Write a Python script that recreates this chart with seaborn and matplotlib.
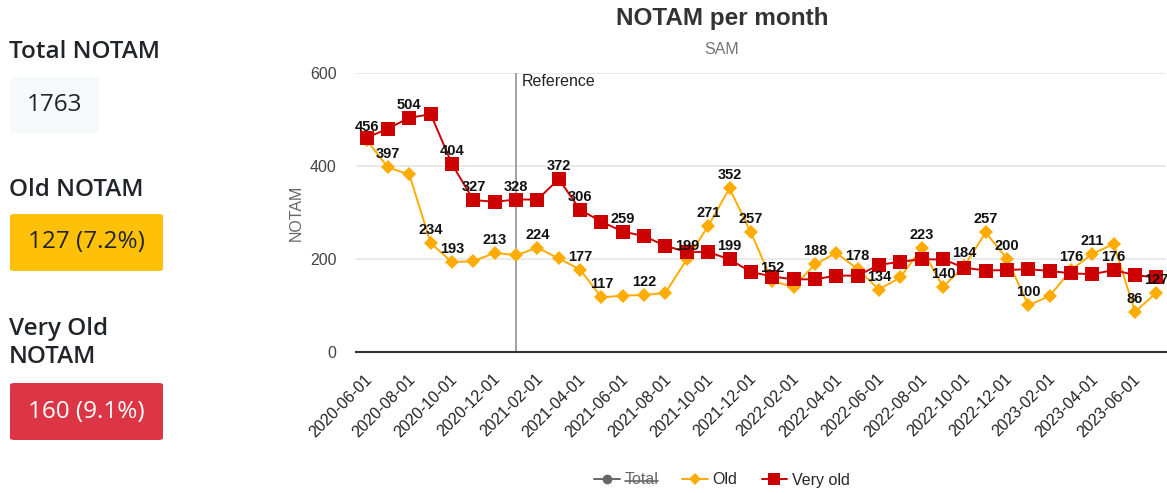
import matplotlib
matplotlib.use("Agg")
import matplotlib.pyplot as plt
import seaborn as sns
import pandas as pd
from matplotlib.patches import FancyBboxPatch
from matplotlib.lines import Line2D
import matplotlib.transforms as mtransforms

# ---------------- data ----------------
months = pd.date_range("2020-06-01", "2023-07-01", freq="MS").strftime("%Y-%m-%d").tolist()
old = [456, 397, 382, 234, 193, 195, 213, 208, 224, 201, 177, 117, 121, 122, 127, 199,
       271, 352, 257, 152, 140, 188, 213, 178, 134, 160, 223, 140, 184, 257, 200, 100,
       120, 176, 211, 232, 86, 127]
very_old = [461, 481, 504, 512, 404, 327, 323, 328, 328, 372, 306, 280, 259, 249, 228, 215,
            215, 199, 172, 162, 156, 156, 164, 164, 187, 194, 199, 199, 181, 175, 176, 178,
            174, 169, 167, 176, 165, 160]
old_labeled = [0, 1, 3, 4, 6, 8, 10, 11, 13, 15, 16, 17, 18, 19, 21, 23, 24, 26, 27, 28,
               29, 30, 31, 33, 34, 36, 37]
very_old_labeled = [2, 4, 5, 7, 9, 10, 12, 17, 35]
reference_month = "2021-01-01"
series_names = ["Total", "Old", "Very old"]
y_ticks = [0, 200, 400, 600]

total_notam = 1763
old_notam = 127
very_old_notam = 160

# ---------------- style ----------------
W, H = 1167, 493
ORANGE = "#FFAB00"
RED = "#CC0000"
CHART_FONT = "Liberation Sans"
CARD_FONT = "Open Sans"

sns.set_style("white")
plt.rcParams["font.family"] = [CHART_FONT, "DejaVu Sans"]

fig = plt.figure(figsize=(W / 100, H / 100), dpi=100)
fig.patch.set_facecolor("white")

def fx(px):
    return px / W

def fy(py):
    return 1 - py / H

ax_left, ax_right, ax_top, ax_bot = 356, 1166, 73.3, 351.7
ax = fig.add_axes([fx(ax_left), fy(ax_bot), fx(ax_right - ax_left), (ax_bot - ax_top) / H])

df = pd.DataFrame({"month": months, "pos": range(len(months)), "Old": old, "Very old": very_old})

sns.lineplot(data=df, x="pos", y="Old", ax=ax, color=ORANGE, lw=1.4, marker="D",
             markersize=7, markeredgewidth=0, zorder=3)
sns.lineplot(data=df, x="pos", y="Very old", ax=ax, color=RED, lw=1.4, marker="s",
             markersize=9.5, markeredgewidth=0, zorder=4)

ax.set_xlim(-0.5, len(months) - 0.55)
ax.set_ylim(0, 600)
ax.set_yticks(y_ticks)
ax.set_yticklabels([str(v) for v in y_ticks], color="#444444", fontsize=11.5)
ax.grid(axis="y", color="#e6e6e6", lw=1.2)
ax.grid(axis="x", visible=False)
for s in ["left", "right", "top"]:
    ax.spines[s].set_visible(False)
ax.spines["bottom"].set_color("#333333")
ax.spines["bottom"].set_linewidth(1.5)
ax.spines["bottom"].set_zorder(5)

tick_pos = list(range(0, len(months), 2))
ax.set_xticks(tick_pos)
ax.set_xticklabels([months[i] for i in tick_pos], rotation=45, ha="right", va="center",
                   rotation_mode="anchor", fontsize=11.5, color="#222222")
ax.tick_params(axis="x", length=0, pad=18)
ax.tick_params(axis="y", length=0, pad=14)
offset = mtransforms.ScaledTranslation(3 / 100, 0, fig.dpi_scale_trans)
for lbl in ax.get_xticklabels():
    lbl.set_transform(lbl.get_transform() + offset)

ax.set_xlabel("")
ax.set_ylabel("NOTAM", color="#666666", fontsize=11.5, labelpad=4)

# reference line
ref_x = months.index(reference_month)
ax.axvline(ref_x, color="#9a9a9a", lw=1.3, zorder=2)
ax.annotate("Reference", xy=(ref_x, 600), xytext=(6, -8), textcoords="offset pixels",
            ha="left", va="center", fontsize=11.5, color="#222222")

# value labels
for i in old_labeled:
    ax.annotate(str(old[i]), xy=(i, old[i]), xytext=(0, 13), textcoords="offset pixels",
                ha="center", va="center", fontsize=10.5, fontweight="bold", color="#111111", zorder=6)
for i in very_old_labeled:
    ax.annotate(str(very_old[i]), xy=(i, very_old[i]), xytext=(0, 13), textcoords="offset pixels",
                ha="center", va="center", fontsize=10.5, fontweight="bold", color="#111111", zorder=6)

# title
fig.text(fx(722), fy(19), "NOTAM per month", ha="center", va="center", fontsize=17.5,
         fontweight="bold", color="#333333")
fig.text(fx(722), fy(49), "SAM", ha="center", va="center", fontsize=11.5, color="#757575")

# legend
handles = [
    Line2D([], [], color="#666666", lw=1.4, marker="o", markersize=7, markeredgewidth=0),
    Line2D([], [], color=ORANGE, lw=1.4, marker="D", markersize=6, markeredgewidth=0),
    Line2D([], [], color=RED, lw=1.4, marker="s", markersize=8, markeredgewidth=0),
]
leg = fig.legend(handles, series_names, loc="center", bbox_to_anchor=(fx(722), fy(480)),
                 ncol=3, frameon=False, fontsize=11.5, handlelength=1.6, columnspacing=1.5,
                 handletextpad=0.3)
leg.get_texts()[0].set_color("#666666")

# strike-through on disabled "Total"
fig.canvas.draw()
renderer = fig.canvas.get_renderer()
bb = leg.get_texts()[0].get_window_extent(renderer)
ymid = (bb.y0 + bb.y1) / 2 / (H)
fig.add_artist(Line2D([bb.x0 / W, bb.x1 / W], [ymid - 0.002, ymid - 0.002],
                      transform=fig.transFigure, color="#666666", lw=1.2))

# ---------------- KPI cards ----------------
def card(x0, y0, x1, y1, face, text, tcolor):
    p = FancyBboxPatch((fx(x0), fy(y1)), fx(x1 - x0), (y1 - y0) / H,
                       boxstyle="round,pad=0,rounding_size=0.004",
                       transform=fig.transFigure, facecolor=face, edgecolor="none")
    fig.patches.append(p)
    fig.text(fx((x0 + x1) / 2), fy((y0 + y1) / 2), text, ha="center", va="center",
             fontsize=17.5, color=tcolor, family=CARD_FONT)

head_kw = dict(ha="left", va="center", fontsize=17.5, fontweight="semibold",
               color="#212529", family=CARD_FONT)
fig.text(fx(9), fy(52), "Total NOTAM", **head_kw)
card(10, 77, 99, 133, "#f8f9fa", f"{total_notam}", "#212529")
fig.text(fx(9), fy(190), "Old NOTAM", **head_kw)
card(10, 214, 163, 271, "#ffc107", f"{old_notam} ({old_notam / total_notam * 100:.1f}%)", "#212529")
fig.text(fx(9), fy(343), "Very Old\nNOTAM", linespacing=1.2, **head_kw)
card(10, 383, 163, 440, "#dc3545", f"{very_old_notam} ({very_old_notam / total_notam * 100:.1f}%)", "white")

fig.savefig("out.png", dpi=100, facecolor="white")
